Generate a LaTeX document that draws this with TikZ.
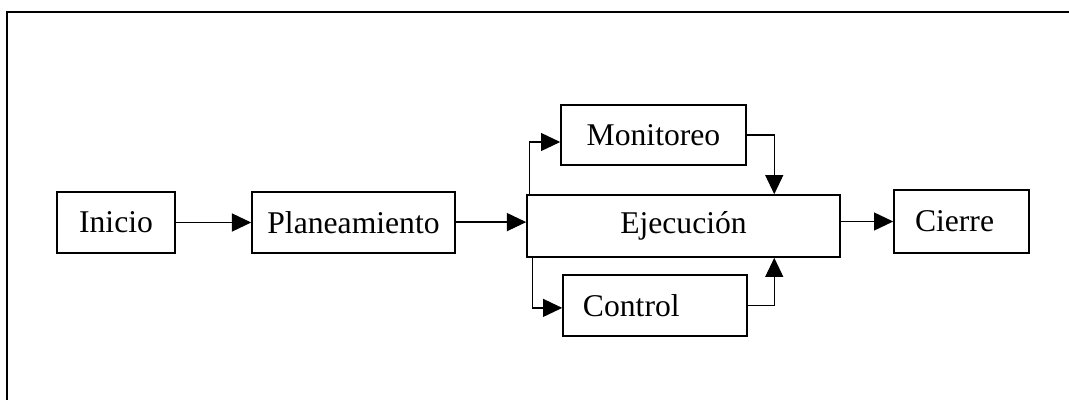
\documentclass[tikz,border=0pt]{standalone}
\usepackage{fontspec}
\setmainfont{Liberation Serif}
\usepackage{tikz}
\usetikzlibrary{arrows.meta, positioning, calc}

\begin{document}
\begin{tikzpicture}[
    x=0.025cm, y=-0.025cm,
    box/.style={draw, rectangle, line width=1.1pt, minimum height=1.525cm, align=center, font=\fontsize{22.5}{27}\selectfont},
    arrow/.style={line width=0.9pt, -{Triangle[length=0.48cm, width=0.45cm]}},
    frame/.style={line width=1.6pt}
]
\useasboundingbox (0,0) rectangle (1069,400);

% Frame
\draw [frame] (1069,12) -| (7,400);

% Nodes
\node (inicio) [box, minimum width=2.95cm] at (116,222.5) {Inicio};
\node (plan) [box, minimum width=5.075cm] at (353.5,222.5) {Planeamiento};
\node (ejec) [box, minimum width=7.825cm, minimum height=1.55cm] at (683.5,226) {Ejecución};
\node (monit) [box, minimum width=4.625cm, minimum height=1.5cm] at (653.5,135) {Monitoreo};
\node (control) [box, inner xsep=0.5cm, text width=3.6cm, align=left] at (655,305.5) {Control};
\node (cierre) [box, minimum height=1.575cm, inner xsep=0.525cm, text width=2.325cm, align=left] at (961.5,221.5) {Cierre};

% Edges
\draw [arrow] (inicio.east) -- (plan.west);
\draw [arrow] ([yshift=0.01cm]plan.east) -- ([yshift=0.01cm]plan.east -| ejec.west);
\draw [arrow] (ejec.east |- cierre.west) -- (cierre.west);
\draw [arrow] ([xshift=0.075cm]ejec.north west) |- ([yshift=-0.175cm]monit.west);
\draw [arrow] (monit.east) -| ([xshift=6.2cm]ejec.north west);
\draw [arrow] ([xshift=0.15cm]ejec.south west) |- ([yshift=-0.06cm]control.west);
\draw [arrow] (control.east) -| ([xshift=6.2cm]ejec.south west);

\end{tikzpicture}
\end{document}
